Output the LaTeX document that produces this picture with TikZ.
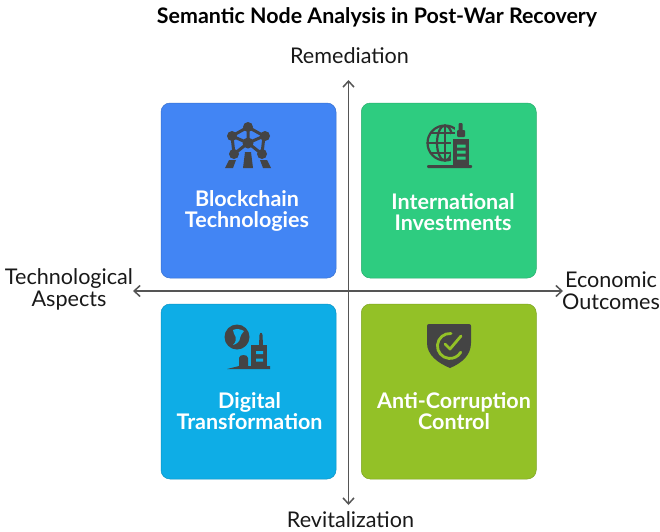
\documentclass[tikz,border=0pt]{standalone}
\usepackage{fontspec}
\setmainfont{Lato}
\usetikzlibrary{arrows.meta}
\definecolor{icon}{HTML}{444444}
\definecolor{cblue}{HTML}{4285F4}
\definecolor{cgreen}{HTML}{2ECC80}
\definecolor{ccyan}{HTML}{0EADE6}
\definecolor{clime}{HTML}{93C127}
\definecolor{axisc}{HTML}{555555}
\tikzset{
  card/.style={draw=#1!85!black,line width=.5pt,fill=#1,rounded corners=9pt,minimum width=175pt,minimum height=175pt,inner sep=0pt},
  cardtext/.style={text=white,font=\fontsize{21.5}{21.5}\selectfont\bfseries,align=center,inner sep=0pt},
  axlabel/.style={text=black!90,font=\fontsize{21.6}{21.5}\selectfont,align=center,inner sep=0pt},
  axisline/.style={draw=axisc,line width=1.5pt,{Straight Barb[length=6pt,width=11pt]}-{Straight Barb[length=6pt,width=11pt]}},
  ic/.style={draw=icon,line width=3pt,line cap=round},
  icf/.style={fill=icon,draw=none}
}
\begin{document}
\begin{tikzpicture}[x=1pt,y=-1pt]
\useasboundingbox (0,0) rectangle (660,531);
\fill[white] (0,0) rectangle (660,531);
\node[inner sep=0pt,font=\fontsize{21.4}{22}\selectfont\bfseries] (title) at (377,17) {Semantic Node Analysis in Post-War Recovery};
\node[card=cblue] (a) at (248.5,190.5) {};
\node[card=cgreen] (b) at (448.75,190.5) {};
\node[card=ccyan] (c) at (248.5,391.5) {};
\node[card=clime] (d) at (448.75,391.5) {};
\node[cardtext] (at) at (247,211) {Blockchain\\Technologies};
\node[cardtext] (bt) at (453,212) {International\\Investments};
\node[cardtext] (ct) at (249.5,411) {Digital\\Transformation};
\node[cardtext] (dt) at (454,411) {Anti-Corruption\\Control};
\coordinate (vt) at (348.5,80);
\coordinate (vb) at (348.5,505);
\coordinate (hl) at (133,291);
\coordinate (hr) at (563,291);
\draw[axisline] (vt) -- (vb);
\draw[axisline] (hl) -- (hr);
\node[axlabel] (top) at (349.5,56) {Remediation};
\node[axlabel,align=none] (bot) at (350.5,520) {Revitalization};
\node[axlabel] (lft) at (69,289.5) {Technological\\Aspects};
\node[axlabel] (rgt) at (611,290.5) {Economic\\Outcomes};
% atom icon
\draw[ic] (248,143)--(248,127) (248,143)--(232,136) (248,143)--(264,136) (248,143)--(234,154) (248,143)--(262,154);
\draw[ic] (248,127)--(232,136)--(234,154) (248,127)--(264,136)--(262,154);
\fill[icon] (248,127) circle (5) (232,136) circle (5) (265,136) circle (5) (234,154) circle (5) (262,154) circle (5) (248,143) circle (5.5);
\fill[cblue] (245,151) rectangle (251,153);
\fill[icf] (245,152)--(251,152)--(253,168)--(243,168)--cycle;
\fill[icf] (229,160)--(236,160)--(233,168)--(225,168)--cycle;
\fill[icf] (260,160)--(267,160)--(271,168)--(263,168)--cycle;
% globe + tower icon
\draw[ic,line width=2.2pt] (445,143) circle (17.5);
\draw[ic,line width=2.2pt] (445,143) ellipse (8 and 17.5);
\draw[ic,line width=2.2pt] (427.5,143)--(462.5,143) (431,133)--(459,133) (431,153)--(459,153) (445,125.5)--(445,160.5);
\fill[cgreen] (451,134) rectangle (472,162);
\fill[cgreen] (455,121) rectangle (467,136);
\fill[icon,rounded corners=1pt] (458.5,123) rectangle (462.5,136);
\fill[icon,rounded corners=1pt] (457,130) rectangle (465,137);
\fill[icf] (453,138.5) rectangle (469,166);
\fill[cgreen] (457,144.5) rectangle (465.5,147.5) (457,150.5) rectangle (465.5,153.5) (457,156.5) rectangle (465.5,159.5);
\fill[icon,rounded corners=1pt] (427,165) rectangle (472,168);
% globe + city icon
\fill[icon] (237,337) circle (12.5);
\fill[ccyan] (233,330)..controls (236,328.5) and (241,329) ..(244,331)..controls (242,334) and (240,335.5)..(240,338)..controls (240,341) and (237,344)..(233,345)..controls (236,342) and (236.5,339)..(235.5,336.5)..controls (234.5,334) and (233,333)..(233,330)--cycle;
\fill[icf] (251,345) rectangle (267,368);
\fill[icf] (259,345)--(259.5,335)..controls (260,332) and (262,332)..(262.5,335)--(263,345)--cycle;
\fill[icf] (239,368)--(239,358)..controls (239,354) and (248,354)..(248,358)--(248,368)--cycle;
\fill[icf] (227,369)--(239,366)--(270,366)--(270,369)--cycle;
\fill[ccyan] (256,351) rectangle (263,354) (256,358.5) rectangle (263,361.5);
% shield icon
\fill[icon] (429,324)--(469,324)..controls (470.5,324) and (471,325) ..(471,326)--(471,343)..controls (471,355) and (462,363)..(450,368)..controls (438,363) and (427,355)..(427,343)--(427,326)..controls (427,325) and (427.5,324)..(429,324)--cycle;
\draw[clime,line width=2.8pt,line cap=round] (451,333.5) arc[start angle=-85,end angle=-330,radius=12.5];
\draw[clime,line width=2.8pt,line cap=round,line join=round] (445,344)--(450,349)--(461,336);
\end{tikzpicture}
\end{document}
